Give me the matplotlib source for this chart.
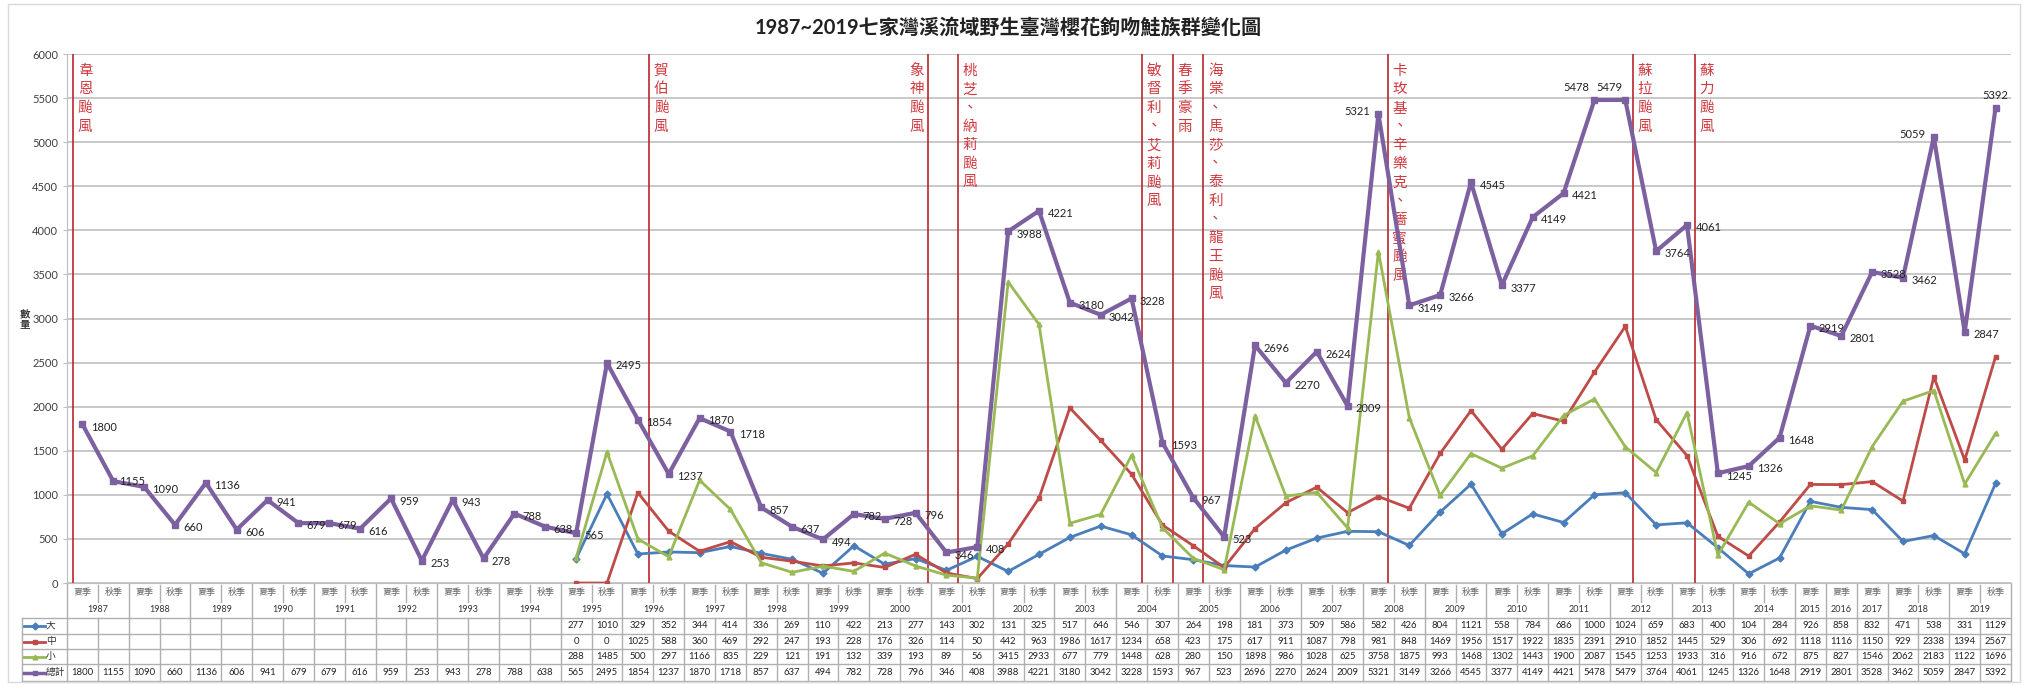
import numpy as np
import matplotlib
matplotlib.use("Agg")
import matplotlib.pyplot as plt
import matplotlib.transforms as mtransforms
from matplotlib.patches import Rectangle

plt.rcParams['font.family'] = ['Lato', 'Noto Sans CJK TC', 'DejaVu Sans']

years = ['1987', '1988', '1989', '1990', '1991', '1992', '1993', '1994', '1995', '1996',
         '1997', '1998', '1999', '2000', '2001', '2002', '2003', '2004', '2005', '2006',
         '2007', '2008', '2009', '2010', '2011', '2012', '2013', '2014', '2015', '2016',
         '2017', '2018', '2019']
seasons_per_year = [2] * 28 + [1, 1, 1, 2, 2]

big = [None] * 16 + [277, 1010, 329, 352, 344, 414, 336, 269, 110, 422, 213, 277, 143, 302,
                     131, 325, 517, 646, 546, 307, 264, 198, 181, 373, 509, 586, 582, 426,
                     804, 1121, 558, 784, 686, 1000, 1024, 659, 683, 400, 104, 284,
                     926, 858, 832, 471, 538, 331, 1129]
mid = [None] * 16 + [0, 0, 1025, 588, 360, 469, 292, 247, 193, 228, 176, 326, 114, 50,
                     442, 963, 1986, 1617, 1234, 658, 423, 175, 617, 911, 1087, 798, 981, 848,
                     1469, 1956, 1517, 1922, 1835, 2391, 2910, 1852, 1445, 529, 306, 692,
                     1118, 1116, 1150, 929, 2338, 1394, 2567]
small = [None] * 16 + [288, 1485, 500, 297, 1166, 835, 229, 121, 191, 132, 339, 193, 89, 56,
                       3415, 2933, 677, 779, 1448, 628, 280, 150, 1898, 986, 1028, 625, 3758, 1875,
                       993, 1468, 1302, 1443, 1900, 2087, 1545, 1253, 1933, 316, 916, 672,
                       875, 827, 1546, 2062, 2183, 1122, 1696]
total = [1800, 1155, 1090, 660, 1136, 606, 941, 679, 679, 616, 959, 253, 943, 278, 788, 638,
         565, 2495, 1854, 1237, 1870, 1718, 857, 637, 494, 782, 728, 796, 346, 408,
         3988, 4221, 3180, 3042, 3228, 1593, 967, 523, 2696, 2270, 2624, 2009, 5321, 3149,
         3266, 4545, 3377, 4149, 4421, 5478, 5479, 3764, 4061, 1245, 1326, 1648,
         2919, 2801, 3528, 3462, 5059, 2847, 5392]

series_names = ['大', '中', '小', '總計']
typhoons = ['韋恩颱風', '賀伯颱風', '象神颱風', '桃芝、納莉颱風', '敏督利、艾莉颱風', '春季豪雨',
            '海棠、馬莎、泰利、龍王颱風', '卡玫基、辛樂克、薔蜜颱風', '蘇拉颱風', '蘇力颱風']
typhoon_pos = [-0.3, 18.37, 27.4, 28.37, 34.33, 35.33, 36.33, 42.3, 50.25, 52.25]

# ---- build season labels ----
season_labels = []
for n in seasons_per_year:
    season_labels += ['夏季', '秋季'][:n]
n = len(season_labels)
x = np.arange(n)

def arr(v):
    return np.array([np.nan if a is None else a for a in v], dtype=float)

colors = ['#4A7EBB', '#BE4B48', '#98B954', '#7D60A0']
markers = ['D', 's', '^', 's']

fig = plt.figure(figsize=(20.28, 6.85), dpi=100)
ax = fig.add_axes([67 / 2028, 1 - 583 / 685, (2011 - 67) / 2028, (583 - 54) / 685])

grid_c = '#BFBFBF'
ax.set_xlim(-0.5, n - 0.5)
ax.set_ylim(0, 6000)
ax.set_yticks(np.arange(0, 6001, 500))
ax.yaxis.grid(True, color=grid_c, lw=1.2)
ax.set_axisbelow(True)
ax.tick_params(axis='y', labelsize=8, colors='#404040', length=3, color=grid_c)
ax.set_xticks([])
for s in ['top', 'right']:
    ax.spines[s].set_visible(False)
ax.spines['left'].set_color(grid_c)
ax.spines['bottom'].set_color(grid_c)

# typhoon lines
for name, p in zip(typhoons, typhoon_pos):
    ax.axvline(p, color='#B8282E', lw=1.2, zorder=1)
    txt = '\n'.join(name)
    if name == '象神颱風':
        ax.text(p - 0.12, 5890, txt, color='#D0393E', fontsize=10.5, ha='right', va='top',
                linespacing=1.42)
    else:
        ax.text(p + 0.15, 5890, txt, color='#D0393E', fontsize=10.5, ha='left', va='top',
                linespacing=1.42)

# series
for vals, c, m, name in zip([big, mid, small, total], colors, markers, series_names):
    y = arr(vals)
    lw = 3 if name == '總計' else 2
    ms = 5 if name == '總計' else 3.5
    ax.plot(x, y, color=c, lw=lw, marker=m, ms=ms, zorder=3 if name != '總計' else 4)

# data labels for total
label_off = {42: (-6, 2, 'right'), 49: (-4, 9, 'right'), 50: (-2, 9, 'right'),
             60: (-6, 2, 'right'), 1: (4, 0, 'left'), 62: (0, 9, 'center')}
for i, v in enumerate(total):
    dx, dy, ha = label_off.get(i, (6, -2, 'left'))
    ax.annotate(str(v), (i, v), xytext=(dx, dy), textcoords='offset points',
                ha=ha, va='center', fontsize=8, color='#222222', zorder=5)

# title and y label
fig.text(1008 / 2028, 1 - 28 / 685, '1987~2019七家灣溪流域野生臺灣櫻花鉤吻鮭族群變化圖',
         ha='center', va='center', fontsize=14.5, fontweight='bold', color='#222222')
fig.text(25 / 2028, 1 - 320 / 685, '數\n量', ha='center', va='center', fontsize=7.5,
         fontweight='bold', color='#333333', linespacing=1.2)

# ---- data table ----
trans = mtransforms.blended_transform_factory(ax.transData, ax.transAxes)
axh = 583 - 54
def ya(px):
    return (583 - px) / axh

xl = -0.5 - (67 - 22) / ((2011 - 67) / n)
tc = '#AFAFAF'
kw = dict(transform=trans, clip_on=False, color=tc, lw=1)

# season row
for i, s in enumerate(season_labels):
    ax.text(i, ya(593), s, transform=trans, ha='center', va='center', fontsize=6.5,
            color='#666666')
# year boundaries
bounds = np.concatenate([[0], np.cumsum(seasons_per_year)]) - 0.5
for i in range(n + 1):
    b = i - 0.5
    if b in bounds:
        ax.plot([b, b], [ya(583), ya(681)], **kw)
    else:
        ax.plot([b, b], [ya(585), ya(602)], **kw)
        ax.plot([b, b], [ya(618), ya(681)], **kw)
for yr, a, b in zip(years, bounds[:-1], bounds[1:]):
    ax.text((a + b) / 2, ya(610), yr, transform=trans, ha='center', va='center',
            fontsize=6.5, color='#333333')

row_edges = [618, 634, 649, 664, 681]
for e in row_edges:
    ax.plot([xl, n - 0.5], [ya(e), ya(e)], **kw)
ax.plot([xl, xl], [ya(618), ya(681)], **kw)

for r, (vals, c, m, name) in enumerate(zip([big, mid, small, total], colors, markers,
                                           series_names)):
    yc = ya((row_edges[r] + row_edges[r + 1]) / 2)
    x0 = xl + 0.08
    x1 = xl + 0.75
    ax.plot([x0, x1], [yc, yc], transform=trans, clip_on=False, color=c,
            lw=2 if name != '總計' else 2.5)
    ax.plot([(x0 + x1) / 2], [yc], transform=trans, clip_on=False, color=c, marker=m,
            ms=3.5)
    ax.text(x1 + 0.03, yc, name, transform=trans, ha='left', va='center', fontsize=7,
            color='#333333')
    for i, v in enumerate(vals):
        if v is not None:
            ax.text(i, yc, str(v), transform=trans, ha='center', va='center',
                    fontsize=6.8, color='#222222')

# outer frame
fig.patches.append(Rectangle((0.004, 0.004), 0.992, 0.99, transform=fig.transFigure,
                             fill=False, edgecolor='#D9D9D9', lw=1))

fig.savefig('out.png', dpi=100)
